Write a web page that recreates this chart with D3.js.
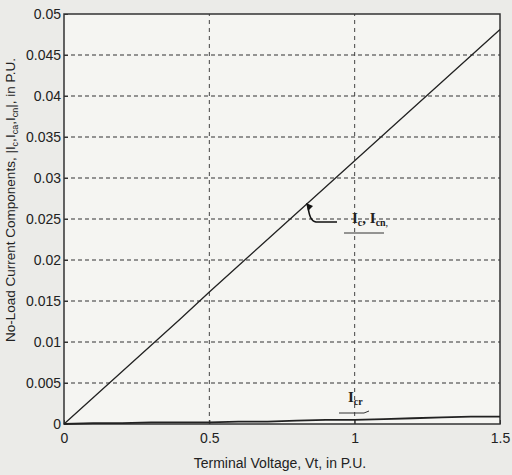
<!DOCTYPE html>
<html>
<head>
<meta charset="utf-8">
<script src="https://cdn.jsdelivr.net/npm/d3@7"></script>
<style>
  body { margin: 0; background: #ebebe8; }
  svg { display: block; }
  text { font-family: "Liberation Sans", Arial, sans-serif; fill: #222; }
</style>
</head>
<body>
<script>
// Terminal voltage (P.U.)
var voltage = [0, 0.1, 0.2, 0.3, 0.4, 0.5, 0.6, 0.7, 0.8, 0.9, 1.0, 1.1, 1.2, 1.3, 1.4, 1.5];
// Ic, Icn (magnetising) component
var icValues = [0, 0.0032, 0.0064, 0.0096, 0.0128, 0.0161, 0.0193, 0.0225, 0.0257, 0.0289, 0.0321, 0.0353, 0.0385, 0.0417, 0.0449, 0.0481];
// Icr (core loss) component
var icrValues = [0, 0.0001, 0.0001, 0.0002, 0.0002, 0.0002, 0.0003, 0.0003, 0.0004, 0.0005, 0.0005, 0.0006, 0.0007, 0.0008, 0.0009, 0.0009];
var xTicks = [0, 0.5, 1, 1.5];
var xTickLabels = ["0", "0.5", "1", "1.5"];
var yTicks = [0, 0.005, 0.01, 0.015, 0.02, 0.025, 0.03, 0.035, 0.04, 0.045, 0.05];
var yTickLabels = ["0", "0.005", "0.01", "0.015", "0.02", "0.025", "0.03", "0.035", "0.04", "0.045", "0.05"];

var width = 512, height = 475;
var margin = {top: 14, right: 12, bottom: 51, left: 64};

var svg = d3.select("body").append("svg")
	.attr("width", width)
	.attr("height", height);

var x = d3.scaleLinear().domain([0, 1.5]).range([margin.left, width - margin.right]);
var y = d3.scaleLinear().domain([0, 0.05]).range([height - margin.bottom, margin.top]);

// Plot background
svg.append("rect")
	.attr("x", x(0)).attr("y", y(0.05))
	.attr("width", x(1.5) - x(0)).attr("height", y(0) - y(0.05))
	.attr("fill", "#f5f5f2");

// Dashed grid
svg.append("g").selectAll("line")
	.data(yTicks.slice(1, -1))
	.enter().append("line")
		.attr("x1", x(0)).attr("x2", x(1.5))
		.attr("y1", function(d) { return y(d); })
		.attr("y2", function(d) { return y(d); })
		.attr("stroke", "#333").attr("stroke-width", 1.2)
		.attr("stroke-dasharray", "4,3");

svg.append("g").selectAll("line")
	.data(xTicks.slice(1, -1))
	.enter().append("line")
		.attr("x1", function(d) { return x(d); })
		.attr("x2", function(d) { return x(d); })
		.attr("y1", y(0)).attr("y2", y(0.05))
		.attr("stroke", "#444").attr("stroke-width", 1)
		.attr("stroke-dasharray", "4,4");

// Axes
var xAxis = d3.axisBottom(x).tickValues(xTicks).tickSize(-4).tickPadding(9)
	.tickFormat(function(d, i) { return xTickLabels[i]; });
var yAxis = d3.axisLeft(y).tickValues(yTicks).tickSize(-4).tickPadding(3)
	.tickFormat(function(d, i) { return yTickLabels[i]; });

var gx = svg.append("g").attr("transform", "translate(0," + y(0) + ")").call(xAxis);
var gy = svg.append("g").attr("transform", "translate(" + x(0) + ",0)").call(yAxis);
[gx, gy].forEach(function(g) {
	g.select(".domain").remove();
	g.selectAll("line").attr("stroke", "#333");
	g.selectAll("text").style("font-size", "14px").attr("fill", "#222");
});

// Frame
svg.append("rect")
	.attr("x", x(0)).attr("y", y(0.05))
	.attr("width", x(1.5) - x(0)).attr("height", y(0) - y(0.05))
	.attr("fill", "none").attr("stroke", "#333").attr("stroke-width", 1.5);

// Series
var line = d3.line()
	.x(function(d, i) { return x(voltage[i]); })
	.y(function(d) { return y(d); });

svg.append("path").datum(icValues)
	.attr("d", line).attr("fill", "none")
	.attr("stroke", "#222").attr("stroke-width", 1.3);

svg.append("path").datum(icrValues)
	.attr("d", line).attr("fill", "none")
	.attr("stroke", "#222").attr("stroke-width", 1.8);

// Annotations
var ann = svg.append("g");
ann.append("path")
	.attr("d", "M308,205 Q309,221 316,222 L337,222")
	.attr("fill", "none").attr("stroke", "#111").attr("stroke-width", 1.6);
ann.append("path")
	.attr("d", "M306,203 L313,206 L308,211 Z").attr("fill", "#111");

var icLabel = ann.append("text").attr("x", 352).attr("y", 223)
	.style("font-family", "'Liberation Serif', serif").style("font-size", "15px").style("font-weight", "bold");
icLabel.append("tspan").text("I");
icLabel.append("tspan").text("c").attr("dy", 3).style("font-size", "10px");
icLabel.append("tspan").text(", I").attr("dy", -3);
icLabel.append("tspan").text("cn").attr("dy", 3).style("font-size", "10px");
icLabel.append("tspan").text(",").attr("dy", 0).style("font-size", "8px");
ann.append("line").attr("x1", 344).attr("x2", 384).attr("y1", 233).attr("y2", 233)
	.attr("stroke", "#333").attr("stroke-width", 1);

var icrLabel = ann.append("text").attr("x", 348).attr("y", 402)
	.style("font-family", "'Liberation Serif', serif").style("font-size", "15px").style("font-weight", "bold");
icrLabel.append("tspan").text("I");
icrLabel.append("tspan").text("cr").attr("dy", 3).style("font-size", "10px");
ann.append("path").attr("d", "M339,413 L364,413 L369,411")
	.attr("fill", "none").attr("stroke", "#333").attr("stroke-width", 1);

// Axis titles
svg.append("text")
	.attr("x", 280).attr("y", 468)
	.attr("text-anchor", "middle")
	.style("font-size", "14px")
	.text("Terminal Voltage, Vt, in P.U.");

var yTitle = svg.append("text")
	.attr("transform", "translate(15,200) rotate(-90)")
	.attr("text-anchor", "middle")
	.style("font-size", "13.5px");
yTitle.append("tspan").text("No-Load Current Components, |I");
yTitle.append("tspan").text("c").attr("dy", 3).style("font-size", "9px");
yTitle.append("tspan").text(",I").attr("dy", -3);
yTitle.append("tspan").text("ca").attr("dy", 3).style("font-size", "9px");
yTitle.append("tspan").text(",I").attr("dy", -3);
yTitle.append("tspan").text("cn").attr("dy", 3).style("font-size", "9px");
yTitle.append("tspan").text("|, in P.U.").attr("dy", -3);
</script>
</body>
</html>
